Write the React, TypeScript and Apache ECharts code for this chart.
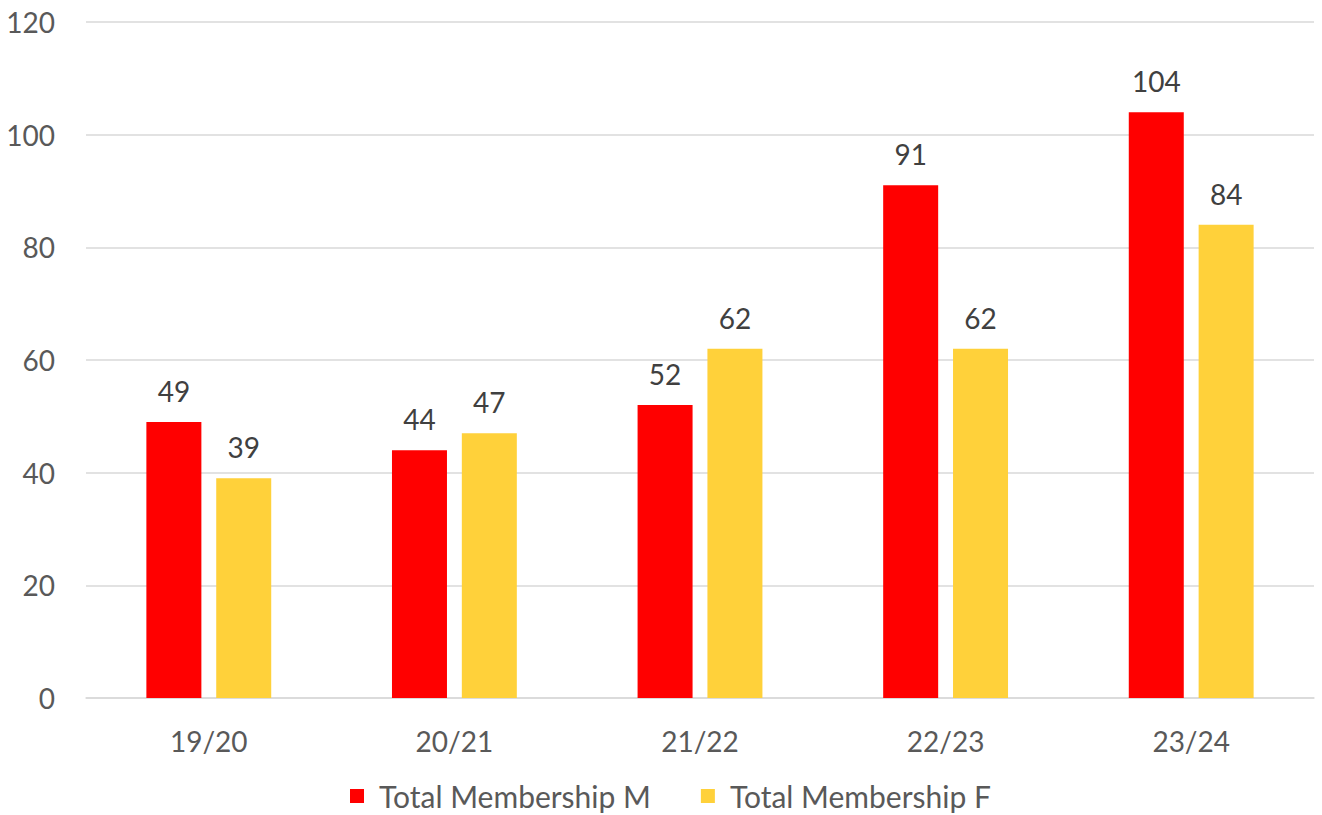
import React, { useEffect, useRef } from "react";
import * as echarts from "echarts";

const categories = ["19/20", "20/21", "21/22", "22/23", "23/24"];
const seriesM = [49, 44, 52, 91, 104];
const seriesF = [39, 47, 62, 62, 84];
const seriesNames = ["Total Membership M", "Total Membership F"];
const colors = ["#FF0000", "#FFD13A"];

const FONT = "Lato, 'Open Sans', sans-serif";
const FS = 28;

export default function App() {
  const ref = useRef<HTMLDivElement>(null);
  useEffect(() => {
    if (!ref.current) return;
    const chart = echarts.init(ref.current, undefined, { renderer: "svg" });
    const label = {
      show: true,
      position: "top" as const,
      distance: 17,
      color: "#404040",
      fontSize: FS,
      fontFamily: FONT,
    };
    chart.setOption({
      animation: false,
      textStyle: { fontFamily: FONT },
      grid: { left: 86, right: 8, top: 22, bottom: 117, containLabel: false },
      legend: {
        top: 781,
        left: 350,
        padding: 0,
        itemWidth: 14,
        itemHeight: 14,
        itemGap: 50,
        icon: "rect",
        textStyle: {
          color: "#595959",
          fontSize: 30,
          lineHeight: 30,
          fontFamily: FONT,
          padding: [0, 0, 0, 10],
        },
        data: seriesNames,
      },
      xAxis: {
        type: "category",
        data: categories,
        axisLine: { show: true, lineStyle: { color: "#D9D9D9", width: 1.5 } },
        axisTick: { show: false },
        axisLabel: { color: "#595959", fontSize: FS, margin: 29, fontFamily: FONT },
      },
      yAxis: {
        type: "value",
        min: 0,
        max: 120,
        interval: 20,
        axisLine: { show: false },
        axisTick: { show: false },
        splitLine: { lineStyle: { color: "#D9D9D9", width: 1.5 } },
        axisLabel: { color: "#595959", fontSize: FS, margin: 31, fontFamily: FONT },
      },
      series: [
        {
          name: seriesNames[0],
          type: "bar",
          data: seriesM,
          barWidth: 55,
          barGap: "27%",
          itemStyle: { color: colors[0] },
          label,
        },
        {
          name: seriesNames[1],
          type: "bar",
          data: seriesF,
          barWidth: 55,
          barGap: "27%",
          itemStyle: { color: colors[1] },
          label,
        },
      ],
    });
    return () => chart.dispose();
  }, []);
  return <div ref={ref} style={{ width: 1322, height: 815, position: "absolute", left: 0, top: 0 }} />;
}
